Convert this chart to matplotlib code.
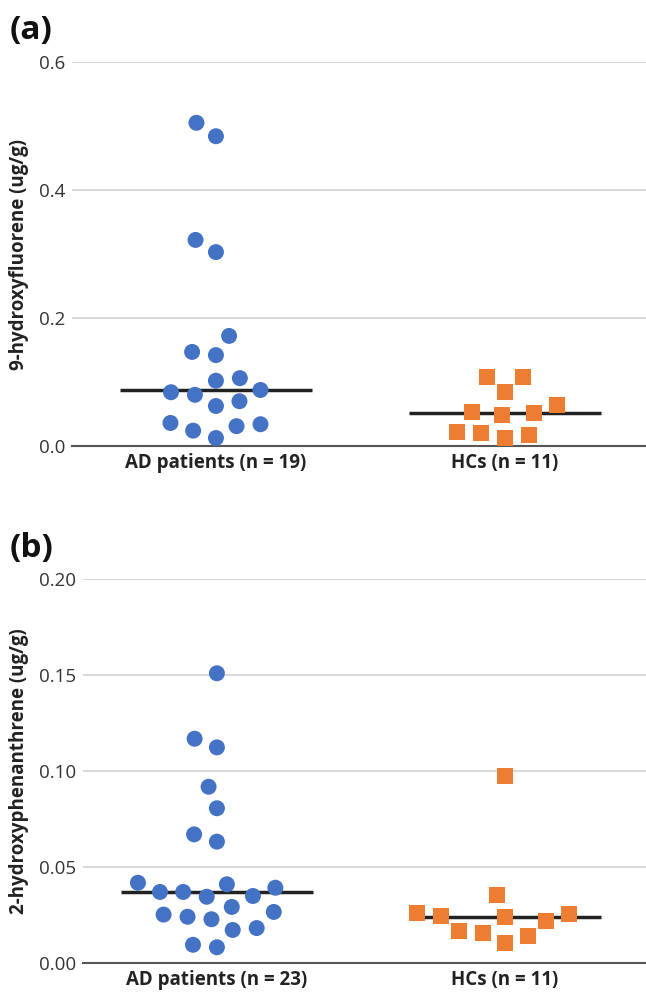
import matplotlib
matplotlib.use('Agg')
import matplotlib.pyplot as plt
import numpy as np
import pandas as pd
import seaborn as sns

plt.rcParams['font.family'] = ['Open Sans', 'DejaVu Sans']

# values (ug/g)
groups = ['AD patients', 'HCs']

fluorene_ad = [0.505, 0.484, 0.322, 0.303, 0.172, 0.147, 0.142, 0.106, 0.102,
               0.084, 0.0875, 0.080, 0.070, 0.0625, 0.036, 0.031, 0.034, 0.024, 0.0125]
fluorene_hc = [0.108, 0.108, 0.084, 0.064, 0.048, 0.053, 0.052, 0.020, 0.0125, 0.017, 0.022]

phen_ad = [0.1509, 0.1168, 0.1123, 0.0918, 0.0806, 0.0670, 0.0632, 0.0418, 0.0410,
           0.0392, 0.0370, 0.0370, 0.0345, 0.0349, 0.0292, 0.0266, 0.0252, 0.0241,
           0.0228, 0.0172, 0.0182, 0.0082, 0.0095]
phen_hc = [0.0976, 0.0354, 0.0262, 0.0219, 0.0246, 0.0257, 0.0241, 0.0158, 0.0168,
           0.0142, 0.0106]

blue = '#4472C4'
orange = '#ED7D31'

W, H = 646, 997
fig = plt.figure(figsize=(W / 100, H / 100), dpi=100)


def px_axes(left, top, right, bottom):
    return fig.add_axes([left / W, 1 - bottom / H, (right - left) / W, (bottom - top) / H])


def panel(ax, ad, hc, ylabel, yticks, ylim, fmt, xlim, letter, letter_y):
    df = pd.DataFrame({
        'group': [groups[0]] * len(ad) + [groups[1]] * len(hc),
        'value': ad + hc,
    })
    ax.set_xlim(*xlim)
    ax.set_ylim(*ylim)
    # median lines under the points
    for i, vals in enumerate([ad, hc]):
        ax.hlines(np.median(vals), i - 0.333, i + 0.333, color='#222222', lw=2.5, zorder=2)
    # invisible edge widens the swarm spacing like the original layout
    sns.swarmplot(data=df[df.group == groups[0]], x='group', y='value', order=groups,
                  color=blue, marker='o', size=11.5, linewidth=5, edgecolor='none',
                  ax=ax, zorder=3)
    sns.swarmplot(data=df[df.group == groups[1]], x='group', y='value', order=groups,
                  color=orange, marker='s', size=11.5, linewidth=5, edgecolor='none',
                  ax=ax, zorder=3)
    for c in list(ax.collections):
        if len(c.get_offsets()) == 0:
            c.remove()
        else:
            c.set_clip_on(False)
    ax.set_xlim(*xlim)
    ax.set_ylim(*ylim)

    ax.set_yticks(yticks)
    ax.set_yticklabels([fmt.format(t) for t in yticks], fontsize=13.5, color='#333333')
    ax.set_xticks([0, 1])
    ax.set_xticklabels([f'{groups[0]} (n = {len(ad)})', f'{groups[1]} (n = {len(hc)})'],
                       fontsize=13.5, fontweight='bold', color='#222222')
    ax.tick_params(length=0, pad=5)
    ax.set_xlabel('')
    ax.set_ylabel(ylabel, fontsize=13.5, fontweight='bold', color='#222222', labelpad=7)
    ax.grid(axis='y', color='#d9d9d9', lw=1.5)
    ax.set_axisbelow(True)
    for s in ['top', 'right', 'left']:
        ax.spines[s].set_visible(False)
    ax.spines['bottom'].set_color('#555555')
    ax.spines['bottom'].set_linewidth(1.5)
    ax.spines['bottom'].set_zorder(1)
    fig.text(10 / W, 1 - letter_y / H, letter,
             fontsize=24, fontweight='bold', color='#111111', va='center', ha='left')


ax1 = px_axes(72, 62, 646, 446)
panel(ax1, fluorene_ad, fluorene_hc, '9-hydroxyfluorene (ug/g)',
      [0.0, 0.2, 0.4, 0.6], (0, 0.6), '{:.1f}', (-0.498, 1.488), '(a)', 30)

ax2 = px_axes(83, 579, 646, 963)
panel(ax2, phen_ad, phen_hc, '2-hydroxyphenanthrene (ug/g)',
      [0.0, 0.05, 0.10, 0.15, 0.20], (0, 0.20), '{:.2f}', (-0.465, 1.49), '(b)', 548)

fig.savefig('out.png', dpi=100)
